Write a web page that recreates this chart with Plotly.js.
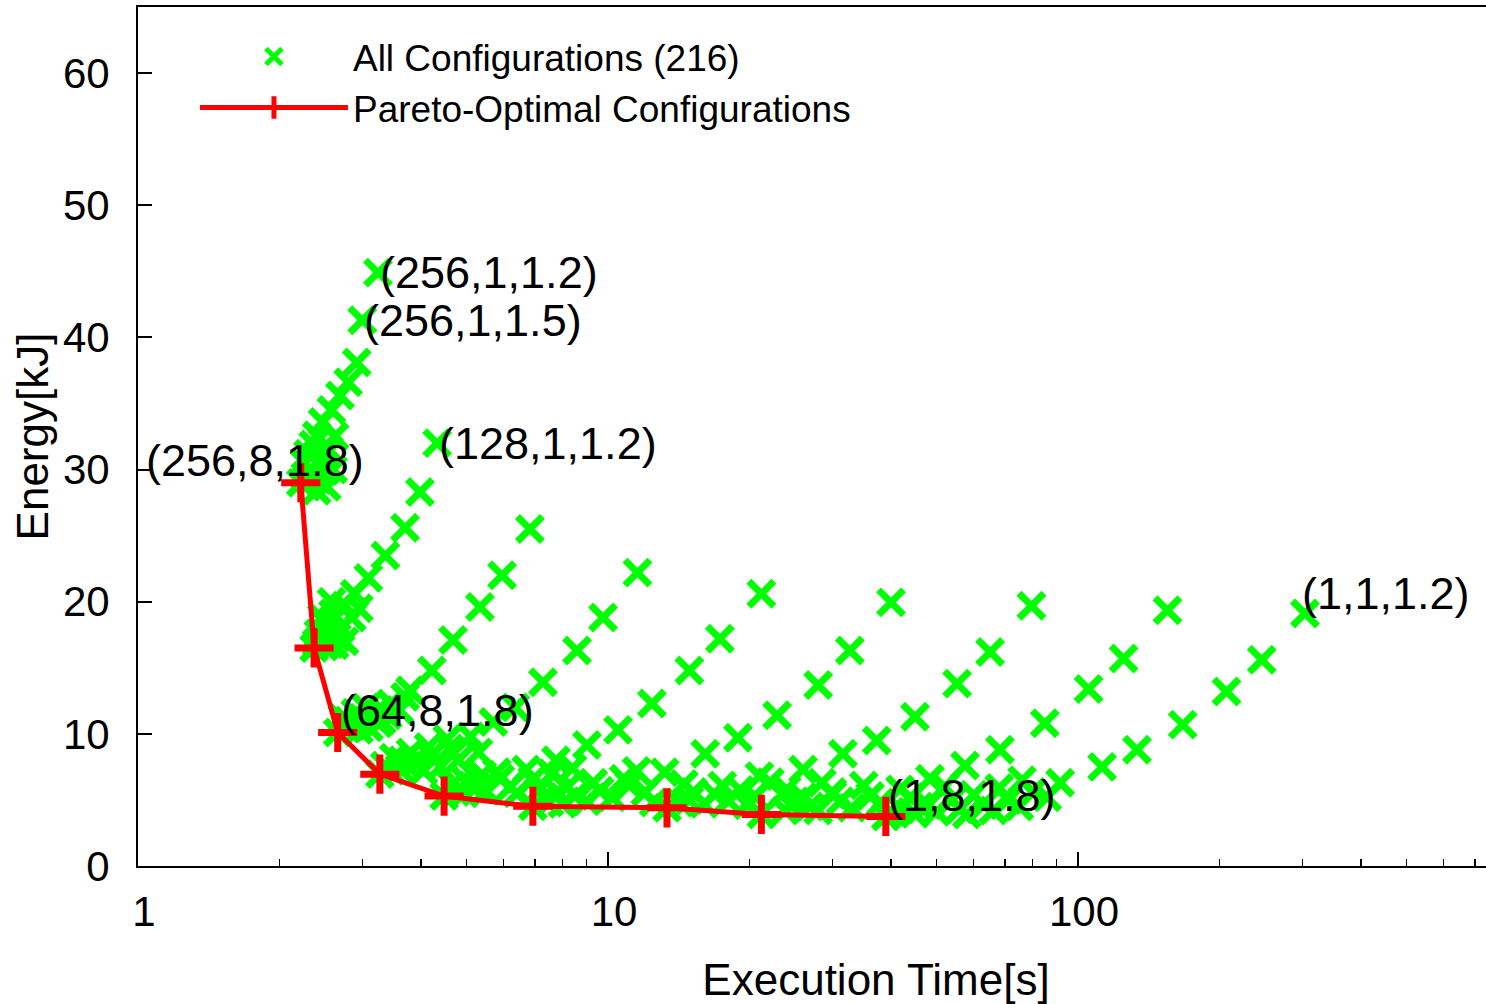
<!DOCTYPE html>
<html><head><meta charset="utf-8">
<script src="https://cdn.plot.ly/plotly-3.0.1.min.js"></script>
<style>html,body{margin:0;padding:0;overflow:hidden;background:#fff;} #wrap{width:1486px;height:1004px;overflow:hidden;} #chart{width:1640px;height:1004px;}</style>
</head><body><div id="wrap"><div id="chart"></div></div>
<script>
// Execution time [s] and energy [kJ] per node count (24 configurations each)
const time_n256 = [3.24, 3.00, 2.92, 2.80, 2.69, 2.58, 2.47, 2.40, 2.36, 2.55, 2.30, 2.45, 2.26, 2.62, 2.50, 2.34, 2.27, 2.42, 2.30, 2.52, 2.40, 2.22, 2.60, 2.48];
const energy_n256 = [44.9, 41.3, 38.1, 36.6, 35.6, 34.5, 33.6, 32.6, 31.9, 31.5, 31.2, 30.8, 30.5, 32.5, 29.9, 29.8, 29.5, 29.2, 29.3, 28.7, 28.4, 29.0, 30.0, 31.0];
const time_n128 = [4.33, 3.98, 3.70, 3.36, 3.09, 2.89, 2.76, 2.60, 2.50, 2.42, 2.56, 2.44, 2.37, 2.70, 2.65, 2.52, 2.85, 2.46, 2.58, 2.40, 2.95, 2.75, 2.62, 2.49];
const energy_n128 = [32.0, 28.3, 25.6, 23.5, 21.8, 20.6, 19.7, 19.1, 18.4, 17.6, 16.8, 17.0, 16.5, 18.0, 17.3, 17.6, 18.8, 18.8, 20.0, 16.9, 19.5, 17.0, 16.7, 16.6];
const time_n64 = [6.82, 5.95, 5.34, 4.68, 4.22, 3.79, 3.45, 3.20, 3.00, 2.85, 2.66, 2.95, 3.10, 2.78, 3.30, 3.60, 2.72, 3.05, 2.90, 3.25, 3.40, 2.80, 3.15, 3.70];
const energy_n64 = [25.5, 22.0, 19.6, 17.1, 14.8, 13.3, 12.3, 11.6, 11.0, 10.6, 10.1, 10.3, 10.5, 10.4, 11.0, 11.8, 11.2, 12.0, 11.6, 10.8, 11.4, 11.0, 11.3, 12.8];
const time_n32 = [11.55, 9.76, 8.59, 7.27, 6.35, 5.70, 5.10, 4.60, 4.20, 3.90, 3.60, 3.27, 3.45, 3.75, 4.05, 3.50, 4.40, 3.80, 4.80, 4.15, 3.35, 5.30, 4.55, 3.65];
const energy_n32 = [22.2, 18.8, 16.3, 13.9, 12.0, 10.9, 9.8, 8.9, 8.3, 7.8, 7.4, 6.95, 7.2, 7.6, 7.2, 8.2, 7.5, 8.6, 8.0, 9.0, 7.6, 8.6, 9.6, 8.0];
const time_n16 = [21.2, 17.3, 14.9, 12.4, 10.5, 9.02, 7.75, 6.70, 5.90, 5.25, 4.75, 4.48, 4.95, 5.50, 6.20, 5.00, 5.80, 6.90, 7.60, 4.65, 6.40, 8.40, 5.40, 7.20];
const energy_n16 = [20.6, 17.2, 14.8, 12.3, 10.3, 9.15, 8.0, 7.3, 6.6, 6.0, 5.6, 5.29, 5.5, 5.7, 6.0, 6.4, 7.1, 6.5, 7.0, 6.1, 5.5, 7.4, 6.9, 5.9];
const time_n8 = [40.0, 32.7, 28.0, 22.9, 18.9, 16.1, 13.2, 11.1, 9.6, 8.5, 7.5, 6.92, 7.3, 8.0, 9.0, 10.2, 12.0, 8.2, 10.8, 14.5, 9.3, 12.5, 7.8, 11.5];
const energy_n8 = [19.95, 16.3, 13.7, 11.4, 9.7, 8.5, 7.1, 6.1, 5.7, 5.3, 4.8, 4.52, 5.2, 4.7, 4.9, 5.2, 5.6, 6.0, 6.6, 6.2, 6.3, 4.8, 5.6, 7.2];
const time_n4 = [79.6, 65.0, 55.3, 45.0, 37.3, 31.6, 26.0, 22.1, 19.1, 16.9, 14.9, 13.35, 14.2, 16.0, 18.0, 20.5, 24.0, 17.5, 21.0, 28.5, 15.2, 25.0, 19.8, 30.0];
const energy_n4 = [19.7, 16.2, 13.8, 11.3, 9.5, 8.5, 7.3, 6.35, 5.75, 5.4, 5.0, 4.40, 4.8, 4.7, 5.0, 5.3, 5.8, 6.1, 6.8, 6.3, 5.6, 4.9, 4.6, 5.4];
const time_n2 = [155, 125, 105.3, 85.0, 68.2, 57.5, 48.4, 41.8, 36.1, 31.2, 26.9, 23.8, 21.2, 24.5, 28.0, 33.0, 38.0, 44.0, 52.0, 30.0, 40.0, 26.0, 35.0, 46.0];
const energy_n2 = [19.35, 15.7, 13.4, 10.8, 8.8, 7.6, 6.6, 5.8, 5.3, 4.9, 4.5, 4.2, 3.9, 4.6, 4.2, 4.4, 4.8, 5.2, 6.0, 5.6, 4.1, 5.2, 6.1, 4.5];
const time_n1 = [304, 246, 207, 167, 133.5, 112.5, 91.6, 80.0, 71.0, 63.0, 56.0, 50.0, 45.0, 39.0, 42.0, 48.0, 54.0, 60.0, 68.0, 76.0, 86.0, 58.0, 66.0, 75.0];
const energy_n1 = [19.1, 15.6, 13.2, 10.7, 8.8, 7.5, 6.3, 5.6, 5.0, 4.6, 4.3, 4.1, 3.95, 3.75, 4.3, 4.6, 5.0, 5.4, 5.9, 6.5, 5.2, 3.9, 4.2, 4.5];

// Pareto front (N,8,1.8) for N = 256 ... 1
const pareto_time = [2.22, 2.37, 2.66, 3.27, 4.48, 6.92, 13.35, 21.2, 39.0];
const pareto_energy = [29.0, 16.5, 10.1, 6.95, 5.29, 4.52, 4.40, 3.9, 3.75];

// Point labels
const label_text = ['(256,1,1.2)', '(256,1,1.5)', '(128,1,1.2)', '(256,8,1.8)', '(64,8,1.8)', '(1,8,1.8)', '(1,1,1.2)'];
const label_time = [3.24, 3.0, 4.33, 1.03, 2.68, 39.0, 296];
const label_energy = [44.9, 41.3, 32.0, 30.7, 11.8, 5.37, 20.6];

// Axis ticks
const x_tickvals = [1, 10, 100];
const x_ticktext = ['1', '10', '100'];
const x_minorvals = [2,3,4,5,6,7,8,9,20,30,40,50,60,70,80,90,200,300,400,500,600,700,800,900];

const allTime = [].concat(time_n256, time_n128, time_n64, time_n32, time_n16, time_n8, time_n4, time_n2, time_n1);
const allEnergy = [].concat(energy_n256, energy_n128, energy_n64, energy_n32, energy_n16, energy_n8, energy_n4, energy_n2, energy_n1);

const FONT = '"Liberation Sans", Arial, Helvetica, sans-serif';

const data = [
  {type: 'scatter', mode: 'markers', x: allTime, y: allEnergy, name: 'All Configurations (216)',
   marker: {symbol: 'x-thin', size: 25, color: '#00ff00', line: {color: '#00ff00', width: 7}}},
  {type: 'scatter', mode: 'lines+markers', x: pareto_time, y: pareto_energy, name: 'Pareto-Optimal Configurations',
   line: {color: '#ff0000', width: 5},
   marker: {symbol: 'cross-thin', size: 28, color: '#ff0000', line: {color: '#ff0000', width: 7}}}
];

const annotations = label_text.map((t, i) => ({
  x: Math.log10(label_time[i]), y: label_energy[i], xref: 'x', yref: 'y', text: t,
  showarrow: false, xanchor: 'left', yanchor: 'middle', font: {size: 45, color: '#000', family: FONT}
}));

const layout = {
  width: 1640, height: 1004,
  margin: {l: 138, r: 26, t: 7, b: 138, pad: 0},
  paper_bgcolor: '#fff', plot_bgcolor: '#fff',
  font: {family: FONT, color: '#000'},
  showlegend: true,
  legend: {x: 0.0386, y: 0.978, xanchor: 'left', yanchor: 'top', font: {size: 37, color: '#000'},
           bgcolor: 'rgba(0,0,0,0)', itemwidth: 148, tracegroupgap: 0},
  xaxis: {type: 'log', range: [0, 3.1404], showline: true, linecolor: '#000', linewidth: 2, mirror: true,
          ticks: 'inside', ticklen: 14, tickwidth: 2, tickcolor: '#000',
          tickmode: 'array', tickvals: x_tickvals, ticktext: x_ticktext, tickfont: {size: 42, color: '#000'},
          ticklabelstandoff: 8, ticklabelshift: 6,
          showgrid: false, zeroline: false,
          minor: {ticks: 'inside', ticklen: 7, tickwidth: 1.5, tickcolor: '#000', tickmode: 'array', tickvals: x_minorvals, showgrid: false},
          title: {text: 'Execution Time[s]', font: {size: 44, color: '#000'}, standoff: 33}},
  yaxis: {range: [0, 65], tick0: 0, dtick: 10, showline: true, linecolor: '#000', linewidth: 2, mirror: true,
          ticks: 'inside', ticklen: 14, tickwidth: 2, tickcolor: '#000', tickfont: {size: 42, color: '#000'},
          showgrid: false, zeroline: false, ticklabelstandoff: 18,
          title: {text: 'Energy[kJ]', font: {size: 44, color: '#000'}, standoff: 0}},
  annotations: annotations
};

Plotly.newPlot('chart', data, layout, {displayModeBar: false, responsive: false, staticPlot: true});
</script>
</body></html>
